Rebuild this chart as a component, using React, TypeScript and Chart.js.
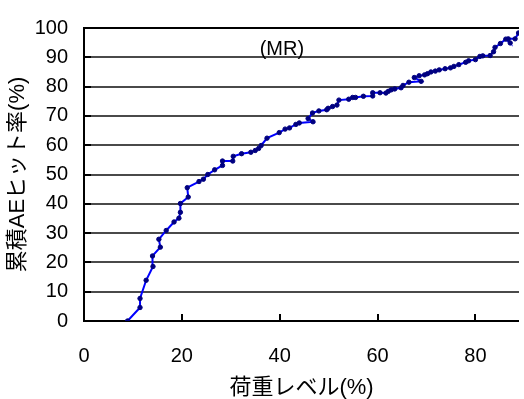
import React, { useEffect, useRef } from "react";
import { Chart, registerables } from "chart.js";

Chart.register(...registerables);

const loadLevel = [
  8.9, 11.45, 11.45, 12.7, 14.1, 14.0, 15.6, 15.3, 16.8, 18.4, 19.4, 19.7, 19.7, 21.3, 21.1,
  23.5, 24.4, 25.3, 26.7, 28.3, 28.3, 30.4, 30.5, 32.2, 34.1, 35.0, 35.7, 36.2, 37.4, 39.9,
  41.1, 42.0, 43.3, 44.0, 46.8, 45.8, 46.7, 48.0, 49.6, 49.9, 50.8, 51.7, 52.1, 54.1, 54.9,
  55.5, 57.1, 59.0, 59.0, 60.5, 61.7, 62.2, 62.8, 63.5, 64.8, 65.2, 66.4, 68.9, 67.5, 68.5,
  69.6, 70.2, 70.9, 71.8, 72.6, 73.8, 74.9, 75.6, 76.6, 78.0, 78.6, 80.0, 80.9, 81.5, 83.0,
  83.7, 84.0, 85.1, 86.2, 87.1, 86.7, 88.1, 88.8,
];
const hitRate = [
  0, 4.6, 7.7, 13.9, 18.6, 22.2, 25.2, 27.9, 30.9, 33.8, 35.1, 37.1, 40.1, 42.3, 45.5,
  47.6, 48.4, 50.0, 51.6, 53.1, 54.6, 54.6, 56.2, 57.1, 57.6, 58.2, 58.9, 59.9, 62.4, 64.3,
  65.5, 65.9, 67.1, 67.6, 68.0, 69.1, 71.0, 71.7, 72.1, 72.6, 73.2, 73.7, 75.4, 75.7, 76.3,
  76.3, 76.7, 76.8, 77.9, 77.9, 77.8, 78.4, 78.9, 79.2, 79.6, 80.4, 81.5, 81.8, 83.1, 83.7,
  84.0, 84.4, 85.0, 85.3, 85.7, 86.1, 86.4, 86.9, 87.5, 88.3, 88.8, 89.2, 90.3, 90.5, 90.6,
  91.9, 93.4, 94.7, 96.2, 94.9, 96.3, 96.3, 98.3,
];
const xTicks = [0, 20, 40, 60, 80];
const yTicks = [0, 10, 20, 30, 40, 50, 60, 70, 80, 90, 100];
const xMin = 0;
const xMax = 88.9;
const chartTitle = "(MR)";
const xTitle = "荷重レベル(%)";
const yTitle = "累積AEヒット率(%)";

const FONT = "'Liberation Sans', 'Noto Sans CJK JP', sans-serif";

const extras = {
  id: "extras",
  beforeDatasetsDraw(chart: any) {
    const { ctx, chartArea, scales } = chart;
    ctx.save();
    ctx.setLineDash([]);
    // horizontal grid lines
    ctx.strokeStyle = "#4a4a4a";
    ctx.lineWidth = 2;
    for (const v of yTicks) {
      const py = Math.round(scales.y.getPixelForValue(v));
      ctx.beginPath();
      ctx.moveTo(chartArea.left, py);
      ctx.lineTo(chartArea.right, py);
      ctx.stroke();
    }
    ctx.strokeStyle = "#000";
    ctx.lineWidth = 2;
    // inward x ticks
    for (const v of xTicks) {
      if (v === xMin) continue;
      const px = Math.round(scales.x.getPixelForValue(v));
      ctx.beginPath();
      ctx.moveTo(px, chartArea.bottom);
      ctx.lineTo(px, chartArea.bottom - 7);
      ctx.stroke();
    }
    // inward y ticks
    for (const v of yTicks) {
      const py = Math.round(scales.y.getPixelForValue(v));
      ctx.beginPath();
      ctx.moveTo(chartArea.left, py);
      ctx.lineTo(chartArea.left + 7, py);
      ctx.stroke();
    }
    // axis lines
    ctx.beginPath();
    ctx.moveTo(Math.round(chartArea.left), chartArea.top - 1);
    ctx.lineTo(Math.round(chartArea.left), chartArea.bottom + 1);
    ctx.stroke();
    ctx.beginPath();
    ctx.moveTo(chartArea.left - 1, Math.round(chartArea.bottom));
    ctx.lineTo(chartArea.right, Math.round(chartArea.bottom));
    ctx.stroke();
    ctx.beginPath();
    ctx.moveTo(chartArea.left - 1, Math.round(chartArea.top));
    ctx.lineTo(chartArea.right, Math.round(chartArea.top));
    ctx.stroke();
    ctx.restore();
  },
  afterDraw(chart: any) {
    const { ctx, chartArea } = chart;
    ctx.save();
    ctx.fillStyle = "#000";
    ctx.font = `20px ${FONT}`;
    ctx.textAlign = "center";
    ctx.textBaseline = "middle";
    ctx.fillText(chartTitle, chartArea.left + (chartArea.right - chartArea.left) * 0.455, chartArea.top + 21);
    ctx.restore();
  },
};

export default function App() {
  const ref = useRef<HTMLCanvasElement>(null);
  useEffect(() => {
    const data = loadLevel.map((x, i) => ({ x, y: hitRate[i] }));
    const chart = new Chart(ref.current!, {
      type: "scatter",
      data: {
        datasets: [
          {
            data,
            showLine: true,
            borderColor: "#0000ff",
            borderWidth: 2,
            pointRadius: 2.2,
            pointBackgroundColor: "#000080",
            pointBorderColor: "#000080",
            pointBorderWidth: 1,
          },
        ],
      },
      options: {
        animation: false,
        responsive: false,
        devicePixelRatio: 1,
        layout: { padding: { top: 19, right: 0, left: 0, bottom: 0 } },
        plugins: { legend: { display: false }, tooltip: { enabled: false }, title: { display: false } },
        scales: {
          x: {
            type: "linear",
            min: xMin,
            max: xMax,
            afterBuildTicks: (s: any) => {
              s.ticks = xTicks.map((v) => ({ value: v }));
            },
            afterFit: (s: any) => {
              s.height = 78;
            },
            grid: { display: false, drawTicks: false },
            border: { display: false },
            ticks: { color: "#000", font: { family: FONT, size: 20 }, padding: 23, maxRotation: 0 },
            title: { display: true, text: xTitle, color: "#000", font: { family: FONT, size: 22 }, padding: { top: 0, bottom: -2 } },
          },
          y: {
            type: "linear",
            min: 0,
            max: 100,
            afterBuildTicks: (s: any) => {
              s.ticks = yTicks.map((v) => ({ value: v }));
            },
            afterFit: (s: any) => {
              s.width = 84;
            },
            grid: { display: false, drawTicks: false },
            border: { display: false },
            ticks: { color: "#000", font: { family: FONT, size: 20 }, padding: 16 },
            title: { display: true, text: yTitle, color: "#000", font: { family: FONT, size: 22 }, padding: { top: 5, bottom: 0 } },
          },
        },
      },
      plugins: [extras],
    });
    return () => chart.destroy();
  }, []);
  return (
    <div style={{ position: "fixed", left: 0, top: 0, width: 524, height: 399, background: "#fff" }}>
      <canvas ref={ref} width={524} height={399} style={{ display: "block" }} />
    </div>
  );
}
